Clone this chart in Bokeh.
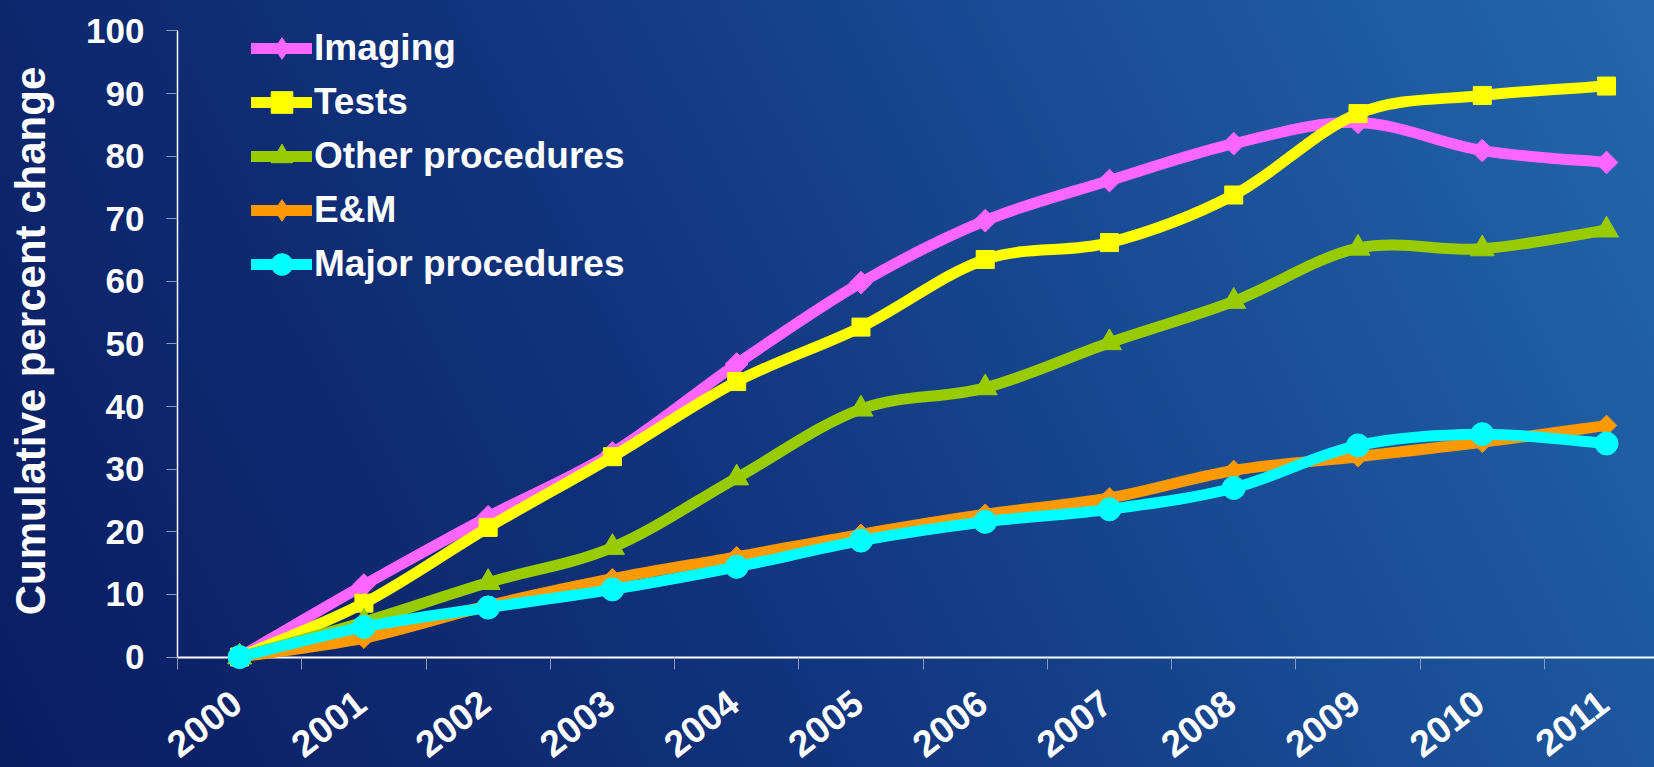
import math
import numpy as np
from bokeh.plotting import figure
from bokeh.models import (Range1d, FixedTicker, Legend, LegendItem, LinearAxis, ColumnDataSource,
                          LabelSet, Label)
from bokeh.core.properties import value
from bokeh.embed import file_html
from bokeh.resources import INLINE

# ---------------- data ----------------
years = [2000, 2001, 2002, 2003, 2004, 2005, 2006, 2007, 2008, 2009, 2010, 2011]
year_labels = [str(y) for y in years]
imaging = [0, 11.5, 22.4, 32.6, 46.8, 59.8, 69.7, 76.1, 82.0, 85.4, 80.9, 79.0]
tests = [0, 8.6, 20.7, 32.0, 44.0, 52.7, 63.5, 66.2, 73.8, 86.8, 89.7, 91.2]
other_procedures = [0, 5.6, 11.9, 17.5, 28.6, 39.6, 43.0, 50.2, 56.8, 65.3, 65.2, 68.2]
em = [0, 3.0, 8.2, 12.5, 16.0, 19.6, 22.8, 25.4, 29.8, 32.0, 34.3, 37.0]
major_procedures = [0, 4.8, 7.9, 10.8, 14.4, 18.6, 21.6, 23.6, 27.0, 33.8, 35.6, 34.1]

series_names = ["Imaging", "Tests", "Other procedures", "E&M", "Major procedures"]
series_values = [imaging, tests, other_procedures, em, major_procedures]
y_ticks = [0, 10, 20, 30, 40, 50, 60, 70, 80, 90, 100]
y_title = "Cumulative percent change"

# ---------------- styles ----------------
series_colors = ["#ff66ff", "#ffff00", "#99cc00", "#ff9900", "#00ffff"]
plot_markers = ["square", "square", "triangle", "square", "circle"]
plot_angles = [math.pi / 4, 0, 0, math.pi / 4, 0]
plot_sizes = [16, 18, 24, 14.5, 23]
legend_markers = ["diamond", "square", "triangle", "diamond", "circle"]
LW = 11
FONT = "Liberation Sans"
TICK_GREY = "#8a98bc"

x_axis_at = years[0] - 0.5          # left edge of the category axis

# the frame covers the whole canvas; axes sit at fixed positions inside it
p = figure(width=1654, height=767, output_backend="svg", toolbar_location=None,
           x_range=Range1d(1998.0755, 2011.386), y_range=Range1d(-17.65, 104.87),
           x_axis_location=None, y_axis_location=None,
           min_border_left=0, min_border_right=0, min_border_top=0, min_border_bottom=0)
p.background_fill_alpha = 0
p.border_fill_alpha = 0
p.outline_line_color = None
p.grid.visible = False
p.styles = {
    "background": "linear-gradient(63deg, #0a1c60 0%, #10337c 40%, #1a4f97 72%, #2367aa 100%)",
}


def bezier_data(xs, ys):
    x = np.asarray(xs, dtype=float)
    y = np.asarray(ys, dtype=float)
    n = len(x)
    i = np.arange(n - 1)
    im1 = np.maximum(i - 1, 0)
    ip2 = np.minimum(i + 2, n - 1)
    return dict(
        x0=x[i], y0=y[i], x1=x[i + 1], y1=y[i + 1],
        cx0=x[i] + (x[i + 1] - x[im1]) / 6.0, cy0=y[i] + (y[i + 1] - y[im1]) / 6.0,
        cx1=x[i + 1] - (x[ip2] - x[i]) / 6.0, cy1=y[i + 1] - (y[ip2] - y[i]) / 6.0,
    )


# x axis line, drawn under the series
xa_line = LinearAxis(fixed_location=0, level="underlay", bounds=(x_axis_at, 2011.386),
                     ticker=FixedTicker(ticks=[], minor_ticks=[]),
                     axis_line_color="white", axis_line_width=2,
                     major_tick_line_color=None, minor_tick_line_color=None,
                     major_label_text_color=None)
p.add_layout(xa_line, "below")

for vals, col, mk, ang, sz in zip(series_values, series_colors, plot_markers, plot_angles, plot_sizes):
    src = ColumnDataSource(bezier_data(years, vals))
    p.bezier(x0="x0", y0="y0", x1="x1", y1="y1", cx0="cx0", cy0="cy0", cx1="cx1", cy1="cy1",
             source=src, line_color=col, line_width=LW, line_cap="round")
    p.scatter(years, vals, marker=mk, angle=ang, size=sz, fill_color=col, line_color=col, line_width=1)

# legend-only renderers
items = []
for name, vals, col, mk in zip(series_names, series_values, series_colors, legend_markers):
    lr = p.line(years, vals, line_color=col, line_width=LW, line_cap="round", visible=False)
    sr = p.scatter(years, vals, marker=mk, fill_color=col, line_color=col, visible=False)
    items.append(LegendItem(label=name, renderers=[lr, sr]))

legend = Legend(items=items, location=(251, 476), orientation="vertical",
                glyph_width=61, glyph_height=54, label_height=54, spacing=0,
                padding=0, margin=0, label_standoff=2,
                border_line_color=None, background_fill_alpha=0,
                label_text_font=FONT, label_text_font_style="bold",
                label_text_font_size="37px", label_text_color="white")
p.add_layout(legend)

# y axis at the left edge of the category axis
ya = LinearAxis(fixed_location=x_axis_at, bounds=(0, 100),
                ticker=FixedTicker(ticks=y_ticks, minor_ticks=[]),
                axis_line_color="white", axis_line_width=1.5,
                major_tick_line_color=TICK_GREY, major_tick_out=11, major_tick_in=0,
                minor_tick_line_color=None,
                major_label_standoff=22,
                major_label_text_font=FONT, major_label_text_font_style="bold",
                major_label_text_font_size="35px", major_label_text_color="white")
p.add_layout(ya, "left")

# y axis title
ytitle = Label(x=x_axis_at, y=(y_ticks[0] + y_ticks[-1]) / 2, x_offset=-147, y_offset=3,
               text=y_title, angle=math.pi / 2, text_align="center", text_baseline="alphabetic",
               text_font=FONT, text_font_style="bold", text_font_size="42px", text_color="white")
p.add_layout(ytitle)

# x axis: category boundary ticks
xa = LinearAxis(fixed_location=0,
                ticker=FixedTicker(ticks=[], minor_ticks=[yr - 0.5 for yr in years] + [years[-1] + 0.5]),
                axis_line_color=None,
                major_tick_line_color=None, major_tick_out=0, major_tick_in=0,
                minor_tick_line_color=TICK_GREY, minor_tick_out=12, minor_tick_in=0,
                major_label_text_color=None)
p.add_layout(xa, "below")

# x category labels (rotated), anchored at each year on the y=0 axis
lab_src = ColumnDataSource(dict(x=years, y=[0] * len(years), text=year_labels))
xlabels = LabelSet(x="x", y="y", text="text", source=lab_src,
                   angle=38 * math.pi / 180, x_offset=-3, y_offset=-41,
                   text_align="right", text_baseline="middle",
                   text_font=value(FONT), text_font_style="bold",
                   text_font_size="37px", text_color="white")
p.add_layout(xlabels)

open("out.html", "w").write(file_html(p, INLINE))
